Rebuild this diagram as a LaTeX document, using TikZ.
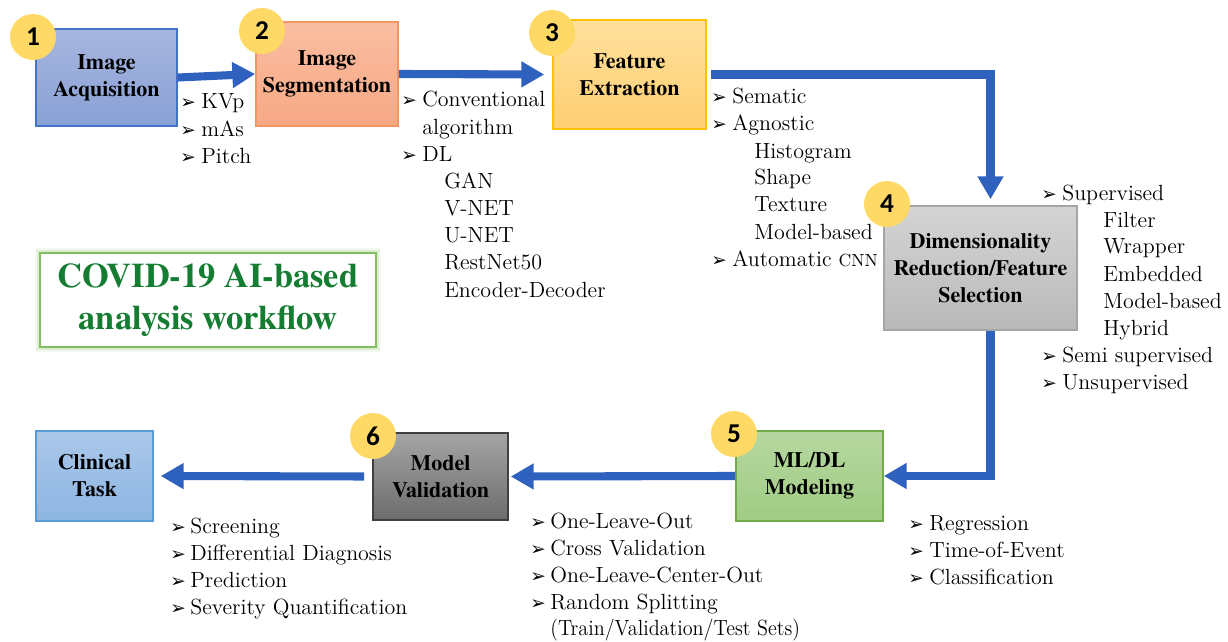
\documentclass[tikz,border=0pt]{standalone}
\usepackage{fontspec}
\usepackage{graphicx}
\setmainfont{texgyretermes}[Extension=.otf, UprightFont=*-regular, BoldFont=*-bold, ItalicFont=*-italic, BoldItalicFont=*-bolditalic]
\newfontfamily\lstf{Latin Modern Roman}
\newfontfamily\symf{DejaVu Sans}
\newfontfamily\badgef{Carlito}
\usetikzlibrary{arrows.meta}
\definecolor{arrowB}{RGB}{47,98,190}
\definecolor{badgeY}{RGB}{255,217,102}
\definecolor{titleG}{RGB}{20,125,50}
\definecolor{titleB}{RGB}{130,190,95}
\newcommand\txtsize{\fontsize{12.5}{15.3}\selectfont}
\newcommand\bul{\makebox[0.42cm][l]{\symf\fontsize{10.5}{12}\selectfont ➢}}
\newcommand\bulb{\makebox[0.40cm][l]{\symf\fontsize{10.5}{12}\selectfont ➢}}
\tikzset{
  box/.style={draw, line width=0.9pt, inner sep=0pt, align=center,
    font=\bfseries\txtsize, text=black},
  badge/.style={circle, fill=badgeY, minimum size=0.92cm, inner sep=0pt,
    font=\badgef\bfseries\fontsize{15.5}{16}\selectfont},
  lst/.style={anchor=base west, inner sep=0pt, font=\txtsize\lstf},
  flow/.style={draw=arrowB, line width=4.6pt, -{Triangle[length=13pt,width=14pt]}},
}
\begin{document}
\begin{tikzpicture}[x=0.02cm,y=-0.02cm]
\useasboundingbox (0,0) rectangle (1228,642);
% boxes
\node[box, minimum width=141*0.02cm, minimum height=97*0.02cm,
  draw={rgb,255:red,68;green,114;blue,196}, top color={rgb,255:red,166;green,181;blue,222}, bottom color={rgb,255:red,138;green,161;blue,214}]
  (b1) at (106.5,77.5) {Image\\Acquisition};
\node[box, minimum width=142*0.02cm, minimum height=104*0.02cm,
  draw={rgb,255:red,244;green,150;blue,100}, top color={rgb,255:red,250;green,190;blue,162}, bottom color={rgb,255:red,247;green,168;blue,132}]
  (b2) at (327,74) {Image\\Segmentation};
\node[box, minimum width=153*0.02cm, minimum height=109*0.02cm,
  draw={rgb,255:red,255;green,192;blue,0}, top color={rgb,255:red,255;green,224;blue,155}, bottom color={rgb,255:red,255;green,207;blue,115}]
  (b3) at (629.5,74.5) {Feature\\Extraction};
\node[box, minimum width=193*0.02cm, minimum height=124*0.02cm,
  draw={rgb,255:red,165;green,165;blue,165}, top color={rgb,255:red,212;green,212;blue,212}, bottom color={rgb,255:red,185;green,185;blue,185}]
  (b4) at (980.5,268) {Dimensionality\\Reduction/Feature\\Selection};
\node[box, minimum width=147*0.02cm, minimum height=90*0.02cm,
  draw={rgb,255:red,112;green,173;blue,71}, top color={rgb,255:red,182;green,215;blue,160}, bottom color={rgb,255:red,160;green,204;blue,132}]
  (b5) at (809.5,476) {ML/DL\\Modeling};
\node[box, minimum width=135*0.02cm, minimum height=87*0.02cm,
  draw={rgb,255:red,64;green,64;blue,64}, top color={rgb,255:red,165;green,165;blue,165}, bottom color={rgb,255:red,108;green,108;blue,108}]
  (b6) at (440.5,476.5) {Model\\Validation};
\node[box, minimum width=117*0.02cm, minimum height=90*0.02cm,
  draw={rgb,255:red,91;green,155;blue,213}, top color={rgb,255:red,170;green,200;blue,234}, bottom color={rgb,255:red,142;green,181;blue,226}]
  (ct) at (94.5,476) {Clinical\\Task};
% badges
\node[badge] (n1) at (33,37) {1};
\node[badge] (n2) at (262,31) {2};
\node[badge] (n3) at (552,33) {3};
\node[badge] (n4) at (887,204) {4};
\node[badge] (n5) at (734,434) {5};
\node[badge] (n6) at (373,436) {6};
% title
\node[draw=titleB, line width=1pt, fill=white, minimum width=336*0.02cm, minimum height=94*0.02cm,
  align=center, inner sep=0pt, text=titleG, font=\bfseries\fontsize{19.6}{24}\selectfont,
  preaction={draw=titleB!40, line width=6pt, opacity=0.25},
  preaction={draw=titleB!60, line width=3.5pt, opacity=0.35}]
  (title) at (208,300) {COVID-19 AI-based\\analysis workflow};
% arrows
\draw[flow] (b1.east) -- (b2.west);
\draw[flow, shorten >=8*0.02cm] (b2.east) -- (b3.west);
\draw[flow, shorten <=4*0.02cm, shorten >=6*0.02cm] (b3.east) -| ([xshift=10*0.02cm]b4.north);
\draw[flow] ([xshift=10*0.02cm]b4.south) |- (b5.east);
\draw[flow, shorten >=2*0.02cm] (b5.west) -- (b6.east);
\draw[flow, shorten <=8*0.02cm, shorten >=7*0.02cm] (b6.west) -- (ct.east);
% lists: acquisition
\node[lst] (a1) at (180,109) {\bul KVp};
\node[lst] (a2) at (180,136) {\bul mAs};
\node[lst] (a3) at (180,164) {\bul Pitch};
% segmentation
\node[lst] (s1) at (401,107) {\bul Conventional};
\node[lst] (s2) at (422,134) {algorithm};
\node[lst] (s3) at (401,162) {\bul DL};
\node[lst] (s4) at (444,189) {GAN};
\node[lst] (s5) at (444,215) {V-NET};
\node[lst] (s6) at (444,242) {U-NET};
\node[lst] (s7) at (444,269) {RestNet50};
\node[lst] (s8) at (444,297) {Encoder-Decoder};
% feature extraction
\node[lst] (f1) at (711,104) {\bul Sematic};
\node[lst] (f2) at (711,131) {\bul Agnostic};
\node[lst] (f3) at (754,158) {Histogram};
\node[lst] (f4) at (754,185) {Shape};
\node[lst] (f5) at (754,212) {Texture};
\node[lst] (f6) at (754,239) {Model-based};
\node[lst] (f7) at (711,266) {\bul Automatic {\fontsize{10}{12}\selectfont CNN}};
% dimensionality
\node[lst] (d1) at (1041,200) {\bul Supervised};
\node[lst] (d2) at (1103,227) {Filter};
\node[lst] (d3) at (1103,254) {Wrapper};
\node[lst] (d4) at (1103,281) {Embedded};
\node[lst] (d5) at (1103,308) {Model-based};
\node[lst] (d6) at (1103,335) {Hybrid};
\node[lst] (d7) at (1041,362) {\bul Semi supervised};
\node[lst] (d8) at (1041,389) {\bul Unsupervised};
% modeling
\node[lst] (m1) at (908,530) {\bul Regression};
\node[lst] (m2) at (908,557) {\bul Time-of-Event};
\node[lst] (m3) at (908,584) {\bul Classification};
% validation
\node[lst] (v1) at (530,528) {\bulb One-Leave-Out};
\node[lst] (v2) at (530,555) {\bulb Cross Validation};
\node[lst] (v3) at (530,582) {\bulb One-Leave-Center-Out};
\node[lst] (v4) at (530,609) {\bulb Random Splitting};
\node[lst] (v5) at (550,635) {\scalebox{0.92}[1]{(Train/Validation/Test Sets)}};
% clinical
\node[lst] (c1) at (170,533) {\bulb Screening};
\node[lst] (c2) at (170,560) {\bulb Differential Diagnosis};
\node[lst] (c3) at (170,587) {\bulb Prediction};
\node[lst] (c4) at (170,614) {\bulb Severity Quantification};
\end{tikzpicture}
\end{document}
